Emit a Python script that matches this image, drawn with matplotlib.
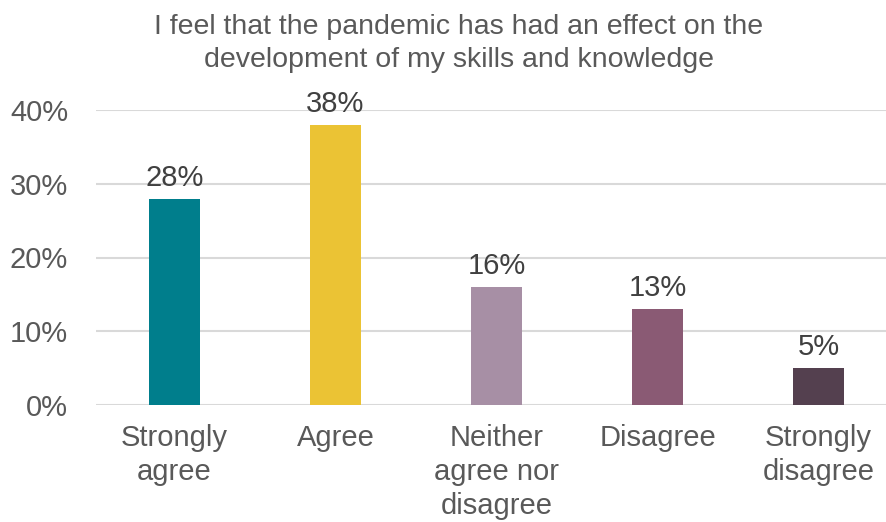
import matplotlib.pyplot as plt
from matplotlib.ticker import PercentFormatter

categories = ["Strongly\nagree", "Agree", "Neither\nagree nor\ndisagree", "Disagree", "Strongly\ndisagree"]
values = [28, 38, 16, 13, 5]
colors = ["#007E8C", "#EBC334", "#A78FA5", "#8A5A74", "#54404F"]
title = "I feel that the pandemic has had an effect on the\ndevelopment of my skills and knowledge"

plt.rcParams['font.family'] = ['Liberation Sans', 'DejaVu Sans']

fig = plt.figure(figsize=(8.87, 5.22), dpi=100)
ax = fig.add_axes([96 / 887, 1 - 405 / 522, 1 - 96 / 887, 295 / 522])

x = range(len(categories))
bars = ax.bar(x, values, width=0.317, color=colors, zorder=3)
for b, v in zip(bars, values):
    ax.annotate(f"{v}%", (b.get_x() + b.get_width() / 2, v), xytext=(0, 5),
                textcoords="offset points", ha="center", va="bottom",
                fontsize=21, color="#404040")

ax.set_ylim(0, 40)
ax.set_xlim(-0.4876, 4.425)
ax.set_yticks([0, 10, 20, 30, 40])
ax.yaxis.set_major_formatter(PercentFormatter(decimals=0))
ax.set_xticks(list(x))
ax.set_xticklabels(categories, linespacing=1.27)
ax.tick_params(axis="both", length=0, labelsize=21, labelcolor="#595959")
ax.tick_params(axis="x", pad=14)
ax.tick_params(axis="y", pad=20)
ax.grid(axis="y", color="#D9D9D9", linewidth=1.5, zorder=0)
for s in ax.spines.values():
    s.set_visible(False)

fig.text(459 / 887, 1 - 14 / 522, title, ha="center", va="top", fontsize=20.5,
         color="#595959", linespacing=1.35)

fig.savefig("out.png", dpi=100)
